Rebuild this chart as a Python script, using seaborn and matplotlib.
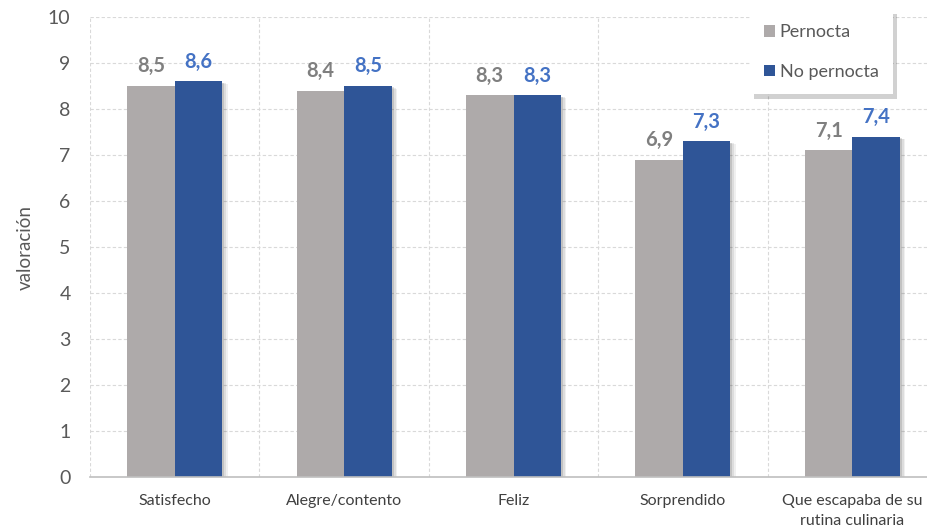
import matplotlib
matplotlib.use("Agg")
import matplotlib.pyplot as plt
import matplotlib.patheffects as pe
import seaborn as sns
import pandas as pd

categories = ["Satisfecho", "Alegre/contento", "Feliz", "Sorprendido",
              "Que escapaba de su\nrutina culinaria"]
pernocta = [8.5, 8.4, 8.3, 6.9, 7.1]
no_pernocta = [8.6, 8.5, 8.3, 7.3, 7.4]
series_names = ["Pernocta", "No pernocta"]
y_ticks = list(range(0, 11))

df = pd.DataFrame({
    "categoria": categories * 2,
    "serie": [series_names[0]] * len(categories) + [series_names[1]] * len(categories),
    "valor": pernocta + no_pernocta,
})

sns.set_theme(style="white")
plt.rcParams["font.family"] = ["Lato", "DejaVu Sans"]

colors = {"Pernocta": "#AEAAAA", "No pernocta": "#2F5597"}
label_colors = {"Pernocta": "#7F7F7F", "No pernocta": "#4472C4"}

fig = plt.figure(figsize=(9.28, 5.32), dpi=100)
ax = fig.add_axes([90 / 928, 55 / 532, 847 / 928, 460 / 532])

sns.barplot(data=df, x="categoria", y="valor", hue="serie", palette=colors,
            width=0.56, gap=0, saturation=1, ax=ax, legend=True)

# soft drop shadow to the right of each bar
shadow = [pe.SimplePatchShadow(offset=(4, -2), shadow_rgbFace="#000000", alpha=0.06),
          pe.SimplePatchShadow(offset=(3, -1.5), shadow_rgbFace="#000000", alpha=0.08),
          pe.SimplePatchShadow(offset=(1.5, -1), shadow_rgbFace="#000000", alpha=0.12),
          pe.Normal()]
for patch in ax.patches:
    patch.set_linewidth(0)
    patch.set_path_effects(shadow)

for cont, name in zip(ax.containers, series_names):
    labels = [f"{v:.1f}".replace(".", ",") for v in cont.datavalues]
    ax.bar_label(cont, labels=labels, padding=7, fontsize=14.5, fontweight="bold",
                 color=label_colors[name])

ax.set_ylim(0, 10)
ax.set_xlim(-0.5, len(categories) - 0.5)
ax.set_yticks(y_ticks)
ax.set_yticklabels([str(t) for t in y_ticks], fontsize=14, color="#595959")
ax.tick_params(axis="x", labelsize=11.5, colors="#404040", length=0, pad=12)
ax.tick_params(axis="y", length=0, pad=14)
ax.set_xticks(range(len(categories)))
ax.set_xticklabels(categories, linespacing=1.6)
for lbl in ax.get_xticklabels():
    lbl.set_color("#404040")

ax.set_xticks([i - 0.5 for i in range(len(categories) + 1)], minor=True)
ax.grid(axis="y", which="major", linestyle=(0, (3, 2)), color="#D9D9D9", linewidth=0.8)
ax.grid(axis="x", which="minor", linestyle=(0, (3, 2)), color="#D9D9D9", linewidth=0.8)
ax.tick_params(axis="x", which="minor", length=0)
ax.set_axisbelow(True)

for side in ["top", "right", "left"]:
    ax.spines[side].set_visible(False)
ax.spines["bottom"].set_color("#BFBFBF")
ax.spines["bottom"].set_linewidth(1.2)

ax.set_xlabel("")
ax.set_ylabel("valoración", fontsize=13.5, color="#595959", labelpad=10)

handles, lbls = ax.get_legend_handles_labels()
leg = ax.legend(handles, lbls, loc="upper right",
                bbox_to_anchor=(893 / 928, 1 - 10 / 532),
                bbox_transform=fig.transFigure, frameon=True, fancybox=False,
                shadow={"color": "#000000", "alpha": 0.18, "ox": 3, "oy": -3},
                fontsize=13, labelspacing=1.3, handlelength=0.6, handleheight=0.6,
                handletextpad=0.25, borderpad=0.8, borderaxespad=0)
leg.get_frame().set_edgecolor("white")
leg.get_frame().set_linewidth(0)
leg.get_frame().set_facecolor("white")
for t in leg.get_texts():
    t.set_color("#595959")
for h in leg.legend_handles:
    h.set_path_effects([])

fig.savefig("out.png", dpi=100)
